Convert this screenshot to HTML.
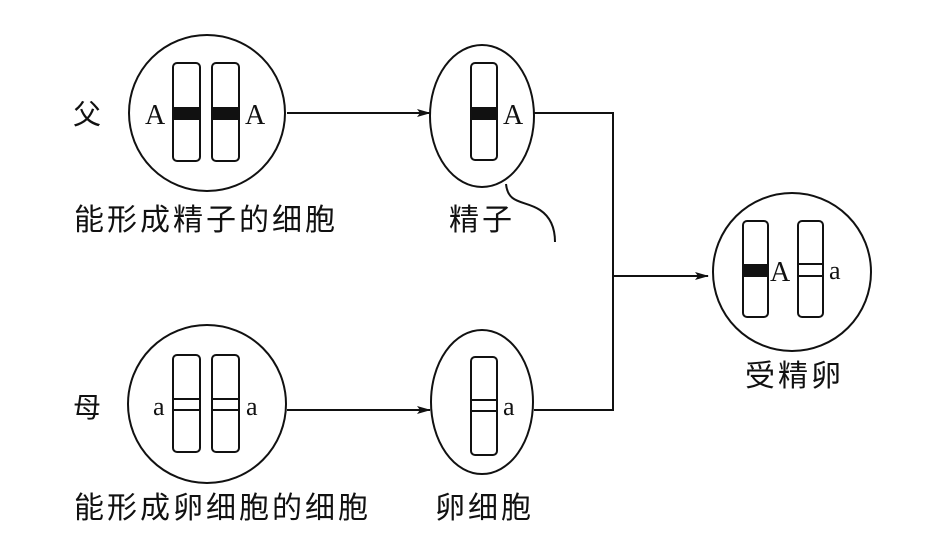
<!DOCTYPE html>
<html><head><meta charset="utf-8"><style>
body{margin:0;background:#fff;}
svg text{font-family:"Liberation Serif","Noto Serif CJK SC",serif;fill:#111;}
.cjk{font-family:"Noto Sans CJK SC","WenQuanYi Zen Hei",sans-serif;font-size:30px;letter-spacing:3px;}
</style></head><body>
<svg width="937" height="546" viewBox="0 0 937 546" xmlns="http://www.w3.org/2000/svg">
<defs><marker id="ar" markerWidth="14" markerHeight="8" refX="13" refY="4" orient="auto" markerUnits="userSpaceOnUse"><path d="M0,0 L14,4 L0,8 L3,4z" fill="#111"/></marker></defs>
<g stroke="#111" stroke-width="2" fill="none">
<circle cx="207" cy="113" r="78"/>
<rect x="173" y="63" width="27" height="98" rx="4"/>
<rect x="212" y="63" width="27" height="98" rx="4"/>
<line x1="287" y1="113" x2="430" y2="113" marker-end="url(#ar)"/>
<ellipse cx="482" cy="116" rx="52" ry="71"/>
<rect x="471" y="63" width="26" height="97" rx="4"/>
<path d="M506,184 C508,205 525,200 540,210 C552,218 555,230 555,242"/>
<polyline points="534,113 613,113 613,410 534,410"/>
<line x1="613" y1="276" x2="708" y2="276" marker-end="url(#ar)"/>
<circle cx="792" cy="272" r="79"/>
<rect x="743" y="221" width="25" height="96" rx="4"/>
<rect x="798" y="221" width="25" height="96" rx="4"/>
<line x1="798" y1="264" x2="823" y2="264"/><line x1="798" y1="276" x2="823" y2="276"/>
<circle cx="207" cy="404" r="79"/>
<rect x="173" y="355" width="27" height="97" rx="4"/>
<rect x="212" y="355" width="27" height="97" rx="4"/>
<line x1="173" y1="399" x2="200" y2="399"/><line x1="173" y1="410" x2="200" y2="410"/>
<line x1="212" y1="399" x2="239" y2="399"/><line x1="212" y1="410" x2="239" y2="410"/>
<line x1="287" y1="410" x2="430" y2="410" marker-end="url(#ar)"/>
<ellipse cx="482" cy="402" rx="51" ry="72"/>
<rect x="471" y="357" width="26" height="98" rx="4"/>
<line x1="471" y1="400" x2="497" y2="400"/><line x1="471" y1="411" x2="497" y2="411"/>
</g>
<g fill="#111">
<rect x="173" y="107" width="27" height="13"/>
<rect x="212" y="107" width="27" height="13"/>
<rect x="471" y="107" width="26" height="13"/>
<rect x="743" y="264" width="25" height="13"/>
</g>
<g font-size="28">
<text x="145" y="124">A</text><text x="245" y="124">A</text>
<text x="503" y="124">A</text>
<text x="770" y="281">A</text><text x="829" y="279" font-size="26">a</text>
<text x="153" y="415" font-size="26">a</text><text x="246" y="415" font-size="26">a</text>
<text x="503" y="415" font-size="26">a</text>
</g>
<text class="cjk" x="73" y="124" style="font-size:28px">父</text>
<text class="cjk" x="73" y="417" style="font-size:28px">母</text>
<text class="cjk" x="74" y="230">能形成精子的细胞</text>
<text class="cjk" x="449" y="230">精子</text>
<text class="cjk" x="745" y="386">受精卵</text>
<text class="cjk" x="74" y="518">能形成卵细胞的细胞</text>
<text class="cjk" x="435" y="518">卵细胞</text>
</svg>
</body></html>
